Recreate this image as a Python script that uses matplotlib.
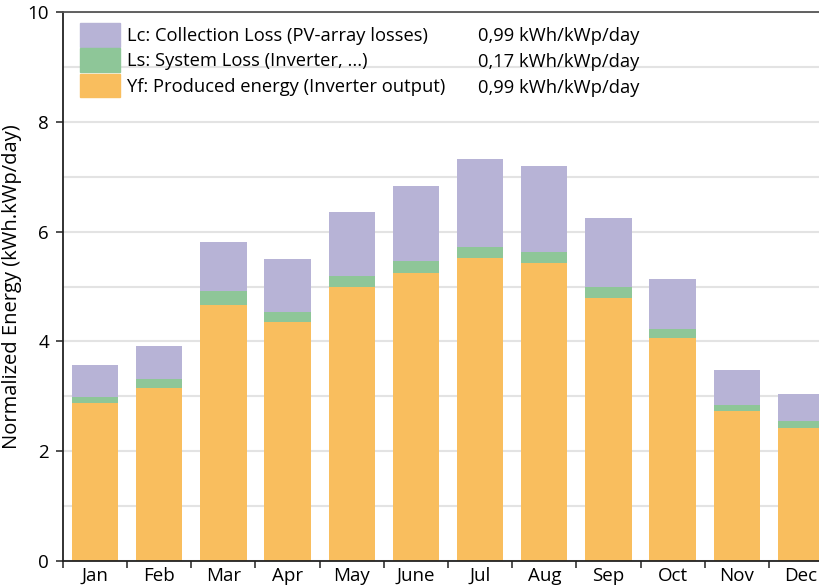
import matplotlib
matplotlib.use("Agg")
import matplotlib.pyplot as plt
from matplotlib.patches import Patch
from matplotlib.ticker import MultipleLocator, FixedLocator

plt.rcParams['font.family'] = ['Open Sans', 'DejaVu Sans']

months = ["Jan", "Feb", "Mar", "Apr", "May", "June", "Jul", "Aug", "Sep", "Oct", "Nov", "Dec"]
yf = [2.88, 3.15, 4.66, 4.36, 4.99, 5.25, 5.52, 5.43, 4.79, 4.06, 2.73, 2.42]
ls = [0.11, 0.17, 0.26, 0.18, 0.20, 0.21, 0.20, 0.20, 0.20, 0.17, 0.11, 0.13]
lc = [0.58, 0.60, 0.89, 0.96, 1.17, 1.37, 1.60, 1.56, 1.26, 0.91, 0.64, 0.49]

legend_labels = ["Lc: Collection Loss (PV-array losses)",
                 "Ls: System Loss (Inverter, ...)",
                 "Yf: Produced energy (Inverter output)"]
legend_values = ["0,99 kWh/kWp/day", "0,17 kWh/kWp/day", "0,99 kWh/kWp/day"]

c_lc = "#b7b3d6"
c_ls = "#8ec698"
c_yf = "#f9be5e"

fig = plt.figure(figsize=(8.19, 5.87), dpi=100)
ax = fig.add_axes([63/819, 1-561/587, 770/819, 549/587])

x = list(range(len(months)))
w = 0.72
bot2 = [a + b for a, b in zip(yf, ls)]
ax.bar(x, yf, width=w, color=c_yf, zorder=2)
ax.bar(x, ls, width=w, bottom=yf, color=c_ls, zorder=2)
ax.bar(x, lc, width=w, bottom=bot2, color=c_lc, zorder=2)

ax.set_xlim(-0.5, 11.5)
ax.set_ylim(0, 10)
ax.yaxis.set_major_locator(MultipleLocator(2))
ax.yaxis.set_minor_locator(MultipleLocator(1))
ax.grid(which='both', axis='y', color='#e3e3e3', linewidth=1.5, zorder=0)
ax.set_axisbelow(True)

ax.set_xticks(x)
ax.set_xticklabels(months, fontsize=13.5)
ax.xaxis.set_minor_locator(FixedLocator([i - 0.5 for i in range(13)]))
ax.tick_params(axis='x', which='major', length=0, pad=4)
ax.tick_params(axis='x', which='minor', length=5, width=1.2, color='#333333')
ax.tick_params(axis='y', which='major', length=5, width=1.2, labelsize=13.5, color='#333333', pad=5)
ax.tick_params(axis='y', which='minor', length=0)
ax.set_ylabel("Normalized Energy (kWh.kWp/day)", fontsize=14.5, labelpad=4)

for s in ['left', 'bottom']:
    ax.spines[s].set_color('#222222')
    ax.spines[s].set_linewidth(1.3)
ax.spines['top'].set_color('#555555')
ax.spines['top'].set_linewidth(1.3)
ax.spines['right'].set_visible(False)

handles = [Patch(color=c_lc), Patch(color=c_ls), Patch(color=c_yf)]
leg = ax.legend(handles, legend_labels, loc='upper left', frameon=False,
                fontsize=13.2, bbox_to_anchor=(17/770, 1 - 11/549),
                handlelength=2.2, handleheight=1.6, handletextpad=0.35,
                labelspacing=0.1, borderaxespad=0, borderpad=0)

row_y = [36, 62, 88]
for val, yy in zip(legend_values, row_y):
    fig.text(478/819, 1 - yy/587, val, fontsize=13.2, va='center', ha='left')

fig.savefig("out.png", dpi=100)
